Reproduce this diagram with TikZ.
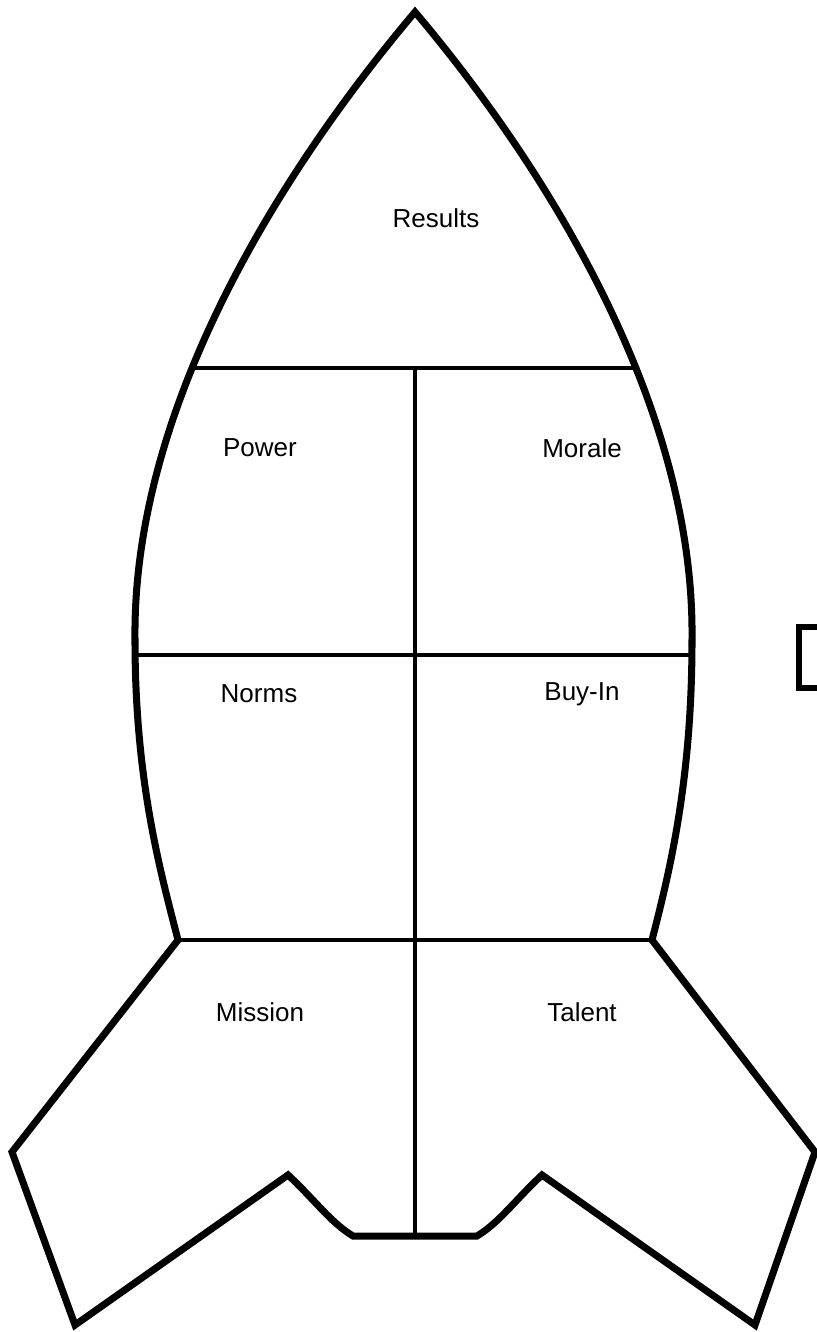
\documentclass[tikz,border=0pt]{standalone}
\usepackage{fontspec}
\setmainfont{Liberation Sans}
\usetikzlibrary{positioning}
\tikzset{
  hull/.style  = {draw=black, line width=4pt, line join=miter},
  split/.style = {draw=black, line width=2.6pt},
  lbl/.style   = {font=\fontsize{14.8}{17}\selectfont, inner sep=0pt},
}
\begin{document}
\begin{tikzpicture}[x=0.02cm,y=-0.02cm]
  \useasboundingbox (0,0) rectangle (817,1332);
  % key points of the outline
  \coordinate (tip)  at (415,12);
  \coordinate (wl)   at (135,640);
  \coordinate (wr)   at (692,640);
  \coordinate (jl)   at (178,940);
  \coordinate (jr)   at (652,940);
  \coordinate (fl)   at (12,1152);
  \coordinate (fr)   at (815,1152);
  \coordinate (bl)   at (75,1325);
  \coordinate (br)   at (755,1325);
  \coordinate (nl)   at (288,1175);
  \coordinate (nr)   at (542,1175);
  \coordinate (cl)   at (353,1236);
  \coordinate (cr)   at (477,1236);
  % rocket outline
  \draw[hull] (tip) .. controls (290,160) and (132,400) .. (wl)
    .. controls (135,780) and (160,870) .. (jl)
    -- (fl) -- (bl) -- (nl) .. controls (315,1200) and (330,1222) .. (cl)
    -- (cr) .. controls (500,1222) and (515,1200) .. (nr)
    -- (br) -- (fr) -- (jr)
    .. controls (670,870) and (692,780) .. (wr)
    .. controls (695,400) and (540,160) .. (tip) -- cycle;
  % inner dividers
  \coordinate (h1l) at (192,368);
  \coordinate (h1r) at (637,368);
  \coordinate (h2l) at (136,655);
  \coordinate (h2r) at (690,655);
  \coordinate (top) at (415,368);
  \coordinate (bot) at (415,1236);
  \draw[split] (h1l) -- (h1r);
  \draw[split] (h2l) -- (h2r);
  \draw[split] (jl) -- (jr);
  \draw[split] (top) -- (bot);
  % small bracket at the right edge
  \draw[hull, line width=3.4pt] (817,627) -- (799,627) -- (799,688) -- (817,688);
  % labels
  \node[lbl] (results) at (436,218)  {Results};
  \node[lbl] (power)   at (260,448)  {Power};
  \node[lbl] (morale)  at (582,448)  {Morale};
  \node[lbl] (norms)   at (259,694)  {Norms};
  \node[lbl] (buyin)   at (582,694)  {Buy-In};
  \node[lbl] (mission) at (260,1012) {Mission};
  \node[lbl] (talent)  at (582,1012) {Talent};
\end{tikzpicture}
\end{document}
